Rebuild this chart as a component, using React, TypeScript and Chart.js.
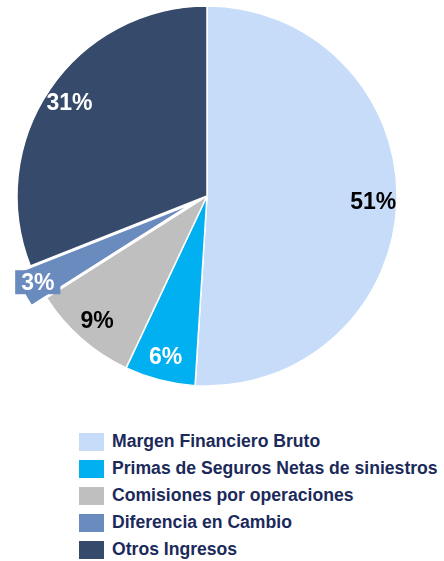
import React, { useEffect, useRef } from "react";
import { Chart, registerables } from "chart.js";

Chart.register(...registerables);

const categories = [
  "Margen Financiero Bruto",
  "Primas de Seguros Netas de siniestros",
  "Comisiones por operaciones",
  "Diferencia en Cambio",
  "Otros Ingresos",
];
const shares = [51, 6, 9, 3, 31];
const pctLabels = ["51%", "6%", "9%", "3%", "31%"];
const colors = ["#C6DCF8", "#00B0F0", "#BFBFBF", "#6A8BBD", "#364A6C"];
const labelColors = ["#000000", "#FFFFFF", "#000000", "#FFFFFF", "#FFFFFF"];
const explodedIndex = 3;

const FONT = '"Liberation Sans", Arial, sans-serif';
const EXPLODE = 17;

const explodePlugin = {
  id: "explodeSlice",
  afterDatasetUpdate(chart: any, args: any) {
    const arc: any = args.meta.data[explodedIndex];
    if (!arc) return;
    const mid = (arc.startAngle + arc.endAngle) / 2;
    arc.x += Math.cos(mid) * EXPLODE;
    arc.y += Math.sin(mid) * EXPLODE;
  },
};

const labelPlugin = {
  id: "pctLabels",
  afterDatasetsDraw(chart: any) {
    const ctx = chart.ctx;
    const meta = chart.getDatasetMeta(0);
    ctx.save();
    ctx.font = `bold 23px ${FONT}`;
    ctx.textAlign = "center";
    ctx.textBaseline = "middle";
    meta.data.forEach((arc: any, i: number) => {
      const mid = (arc.startAngle + arc.endAngle) / 2;
      const frac = i === explodedIndex ? 0.91 : 0.875;
      const r = arc.outerRadius * frac;
      const x = arc.x + Math.cos(mid) * r;
      const y = arc.y + Math.sin(mid) * r;
      if (i === explodedIndex) {
        const w = ctx.measureText(pctLabels[i]).width + 12;
        const h = 24;
        ctx.fillStyle = colors[i];
        ctx.fillRect(x - w / 2, y - h / 2, w, h);
      }
      ctx.fillStyle = labelColors[i];
      ctx.fillText(pctLabels[i], x, y + 1);
    });
    ctx.restore();
  },
};

export default function App() {
  const canvasRef = useRef<HTMLCanvasElement | null>(null);

  useEffect(() => {
    if (!canvasRef.current) return;
    const chart = new Chart(canvasRef.current, {
      type: "pie",
      data: {
        labels: categories,
        datasets: [
          {
            data: shares,
            backgroundColor: colors,
            borderColor: "#FFFFFF",
            borderWidth: 1.5,
          },
        ],
      },
      options: {
        animation: false,
        responsive: false,
        radius: 190,
        layout: { padding: { left: 0, right: 30, top: 0, bottom: 18 } },
        plugins: {
          legend: { display: false },
          tooltip: { enabled: false },
        },
      } as any,
      plugins: [explodePlugin, labelPlugin],
    });
    return () => chart.destroy();
  }, []);

  return (
    <div style={{ position: "relative", width: 444, height: 561, background: "#FFFFFF" }}>
      <style>{"body{margin:0;}"}</style>
      <canvas ref={canvasRef} width={444} height={410} style={{ position: "absolute", left: 0, top: 0 }} />
      <div style={{ position: "absolute", left: 79, top: 428 }}>
        {categories.map((c, i) => (
          <div key={c} style={{ display: "flex", alignItems: "center", height: 27 }}>
            <div style={{ width: 25, height: 18, background: colors[i], marginRight: 8, flex: "none" }} />
            <span
              style={{
                fontFamily: FONT,
                fontWeight: "bold",
                fontSize: 17.6,
                color: "#1B2A5A",
                whiteSpace: "nowrap",
                lineHeight: "27px",
              }}
            >
              {c}
            </span>
          </div>
        ))}
      </div>
    </div>
  );
}
